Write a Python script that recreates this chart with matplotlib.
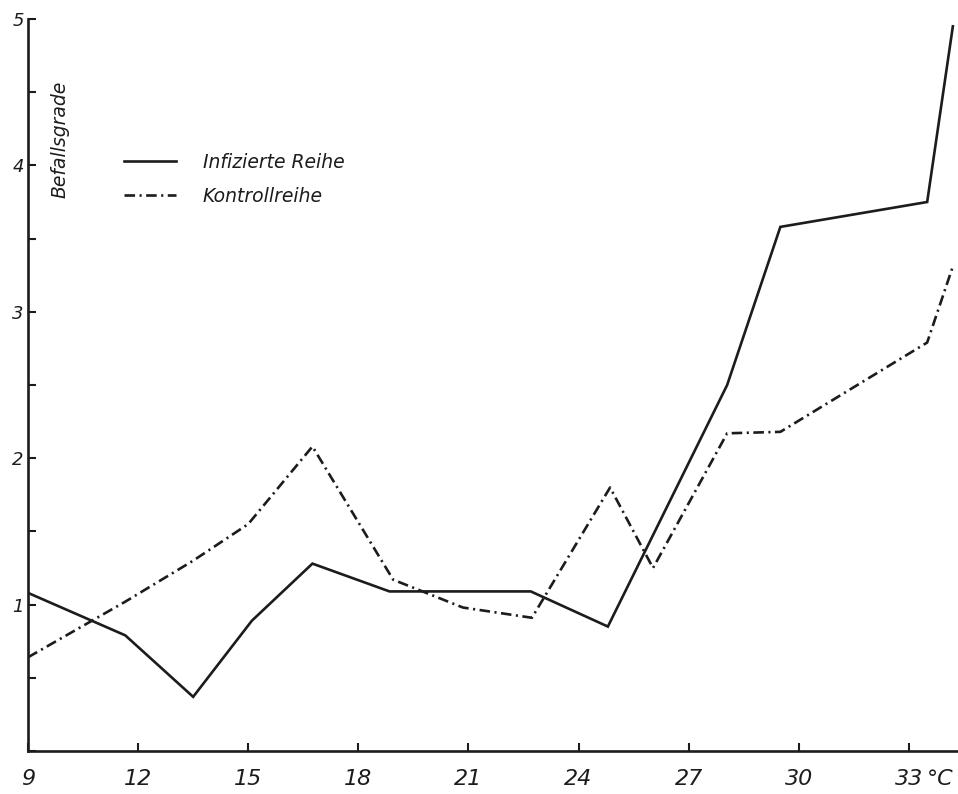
import matplotlib
matplotlib.use("Agg")
import matplotlib.pyplot as plt
from matplotlib.ticker import MultipleLocator

# temperature (°C) and Befallsgrad
temp_infiziert = [9.0, 11.65, 13.5, 15.1, 16.75, 18.85, 22.7, 24.8, 28.05, 29.5, 33.5, 34.2]
befall_infiziert = [1.08, 0.79, 0.37, 0.89, 1.28, 1.09, 1.09, 0.85, 2.5, 3.58, 3.75, 4.95]

temp_kontrolle = [9.0, 11.65, 13.5, 15.0, 16.75, 18.95, 20.85, 22.73, 24.86, 26.03,
                  28.05, 29.5, 33.5, 34.2]
befall_kontrolle = [0.64, 1.02, 1.30, 1.55, 2.08, 1.17, 0.98, 0.91, 1.80, 1.25,
                    2.17, 2.18, 2.79, 3.31]

xticks = [9, 12, 15, 18, 21, 24, 27, 30, 33]
yticks = [1, 2, 3, 4, 5]

ink = "#1c1c1c"
plt.rcParams["font.family"] = ["DejaVu Sans"]

fig = plt.figure(figsize=(9.58, 7.94), dpi=100)
ax = fig.add_axes([28 / 958, 43 / 794, 930 / 958, 732 / 794])

ax.plot(temp_infiziert, befall_infiziert, color=ink, lw=1.9,
        solid_joinstyle="miter", label="Infizierte Reihe")
ax.plot(temp_kontrolle, befall_kontrolle, color=ink, lw=1.9,
        dashes=(4, 1.7, 0.8, 1.7), label="Kontrollreihe")

ax.set_xlim(9, 34.34)
ax.set_ylim(0, 5)

for side in ["top", "right"]:
    ax.spines[side].set_visible(False)
for side in ["left", "bottom"]:
    ax.spines[side].set_linewidth(1.9)
    ax.spines[side].set_color(ink)

ax.set_xticks(xticks)
ax.set_xticklabels([str(t) for t in xticks], fontsize=16, style="italic")
ax.set_yticks(yticks)
ax.set_yticklabels([str(t) for t in yticks], fontsize=13, style="italic")
ax.yaxis.set_minor_locator(MultipleLocator(0.5))

ax.tick_params(axis="x", direction="in", length=6, width=1.5, pad=13, colors=ink)
ax.tick_params(axis="y", which="major", direction="in", length=6, width=1.5, pad=3, colors=ink)
ax.tick_params(axis="y", which="minor", direction="in", length=6, width=1.5, colors=ink)

# unit next to the last tick label
ax.text(33.5, -0.024, "°C", transform=ax.get_xaxis_transform(),
        fontsize=16, style="italic", color=ink, ha="left", va="top")

# y axis title sits inside the plot area
ax.text(0.034, 0.835, "Befallsgrade", transform=ax.transAxes, rotation=90,
        fontsize=13.5, style="italic", color=ink, ha="center", va="center")

leg = ax.legend(loc="upper left", bbox_to_anchor=(124 / 958, 1 - 153 / 794),
                bbox_transform=fig.transFigure, frameon=False,
                prop={"size": 13.5, "style": "italic"},
                handlelength=2.8, handletextpad=1.4, labelspacing=0.8,
                borderpad=0, borderaxespad=0)
for t in leg.get_texts():
    t.set_color(ink)

fig.savefig("out.png", dpi=100)
